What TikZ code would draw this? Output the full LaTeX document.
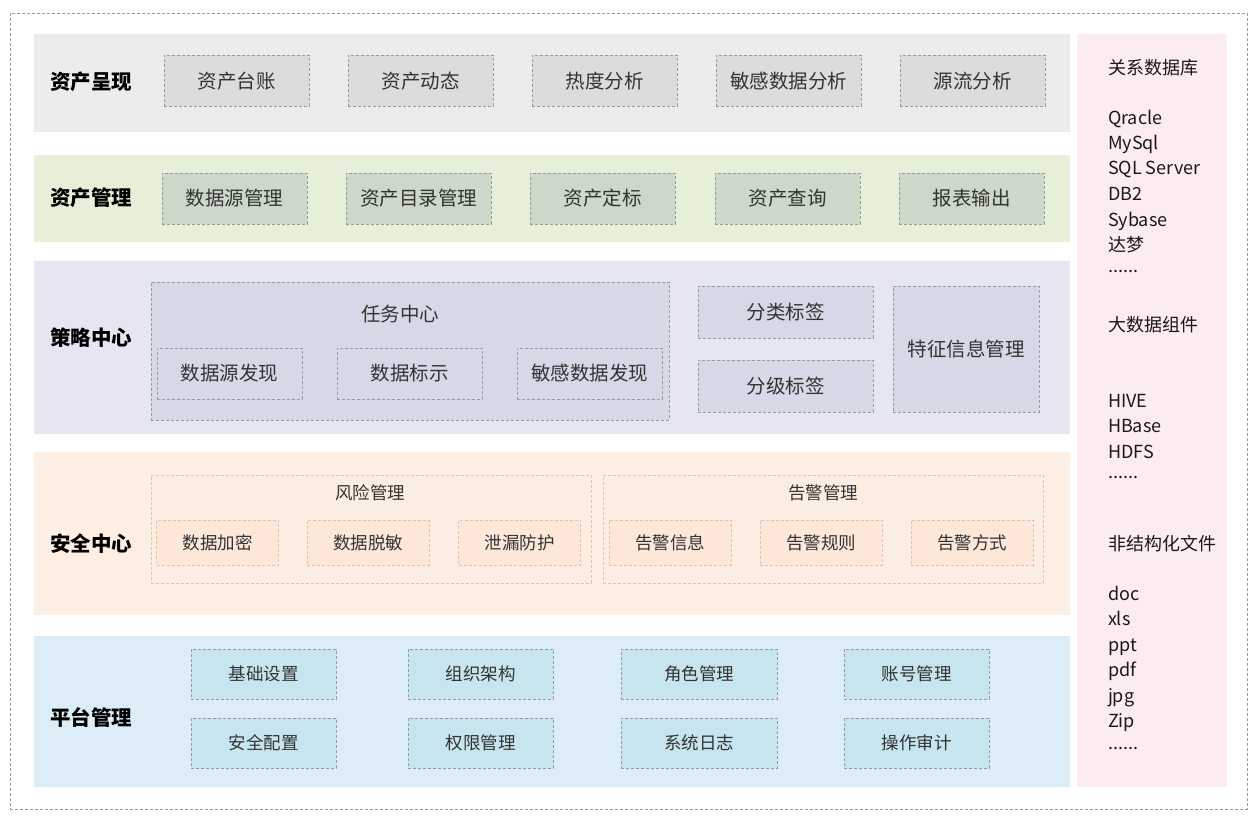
\documentclass[tikz,border=0pt]{standalone}
\usepackage{fontspec}
\setmainfont{Noto Sans CJK SC}
\definecolor{bandA}{HTML}{EDECEA}
\definecolor{bandB}{HTML}{E6F0D9}
\definecolor{bandC}{HTML}{E5E6F1}
\definecolor{bandD}{HTML}{FDEFE4}
\definecolor{bandE}{HTML}{DCEDF7}
\definecolor{bandR}{HTML}{FDEBF3}
\definecolor{boxA}{HTML}{DCDCDC}
\definecolor{boxB}{HTML}{CCD8C9}
\definecolor{boxC}{HTML}{D5D8E6}
\definecolor{boxD}{HTML}{FCE7D8}
\definecolor{grpD}{HTML}{FCEDE3}
\definecolor{boxE}{HTML}{C6E5EF}
\definecolor{dashG}{HTML}{9A9A9A}
\definecolor{dashO}{HTML}{E2C3A3}
\definecolor{txt}{HTML}{333333}
\begin{document}
\begin{tikzpicture}[x=1pt,y=-1pt,
  every node/.style={inner sep=0pt,outer sep=0pt},
  band/.style={fill=#1,draw=none,anchor=north west,minimum width=1036pt},
  cell/.style={draw=dashG,dash pattern=on 3pt off 2pt,line width=0.6pt,text=txt},
  big/.style={font=\fontsize{19.5}{20}\selectfont},
  small/.style={font=\fontsize{17.5}{18}\selectfont},
  cellA/.style={cell,big,fill=boxA,minimum width=145pt,minimum height=51pt},
  cellB/.style={cell,big,fill=boxB,minimum width=145pt,minimum height=51pt},
  cellC/.style={cell,big,fill=boxC},
  cellD/.style={cell,small,draw=dashO,fill=boxD,minimum width=122pt,minimum height=45pt},
  grpD/.style={cell,draw=dashO,fill=grpD,minimum width=440pt,minimum height=108pt},
  cellE/.style={cell,small,fill=boxE,minimum height=50pt},
  lbl/.style={font=\fontsize{20.5}{21}\selectfont\bfseries,text=black},
  rt/.style={font=\fontsize{18}{18}\selectfont,text=black!90,anchor=base west},
  gt/.style={text=txt}
]
\useasboundingbox (0,0) rectangle (1257,818);
\node[draw=dashG,dash pattern=on 3pt off 2pt,line width=0.6pt,anchor=north west,minimum width=1237pt,minimum height=796pt] (outer) at (10,13) {};

% bands
\node[band=bandA,minimum height=98pt] (b1) at (34,34) {};
\node[band=bandB,minimum height=87pt] (b2) at (34,155) {};
\node[band=bandC,minimum height=173pt] (b3) at (34,261) {};
\node[band=bandD,minimum height=163pt] (b4) at (34,452) {};
\node[band=bandE,minimum height=151pt] (b5) at (34,636) {};
\node[fill=bandR,anchor=north west,minimum width=150pt,minimum height=753pt] (rp) at (1077,34) {};

% band labels
\node[lbl] (l1) at (91,82) {资产呈现};
\node[lbl] (l2) at (91,198) {资产管理};
\node[lbl] (l3) at (91,338) {策略中心};
\node[lbl] (l4) at (91,544) {安全中心};
\node[lbl] (l5) at (91,717) {平台管理};

% row 1
\node[cellA] (a1) at (236.5,81) {资产台账};
\node[cellA] (a2) at (420.5,81) {资产动态};
\node[cellA] (a3) at (604.5,81) {热度分析};
\node[cellA] (a4) at (788.5,81) {敏感数据分析};
\node[cellA] (a5) at (972.5,81) {源流分析};

% row 2
\node[cellB] (m1) at (234.5,198.5) {数据源管理};
\node[cellB] (m2) at (418.5,198.5) {资产目录管理};
\node[cellB] (m3) at (602.5,198.5) {资产定标};
\node[cellB] (m4) at (787.5,198.5) {资产查询};
\node[cellB] (m5) at (971.5,198.5) {报表输出};

% strategy
\node[cellC,minimum width=518pt,minimum height=138pt] (tc) at (410,351) {};
\node[gt,big] (tct) at (400,314) {任务中心};
\node[cellC,minimum width=145pt,minimum height=51pt] (s1) at (229.5,373.5) {数据源发现};
\node[cellC,minimum width=145pt,minimum height=51pt] (s2) at (409.5,373.5) {数据标示};
\node[cellC,minimum width=145pt,minimum height=51pt] (s3) at (589.5,373.5) {敏感数据发现};
\node[cellC,minimum width=175pt,minimum height=52pt] (s4) at (785.5,312) {分类标签};
\node[cellC,minimum width=175pt,minimum height=52pt] (s5) at (785.5,386) {分级标签};
\node[cellC,minimum width=146pt,minimum height=126pt] (s6) at (966,349) {特征信息管理};

% security
\node[grpD] (g1) at (371,529) {};
\node[gt,small] (g1t) at (370,493) {风险管理};
\node[grpD] (g2) at (823,529) {};
\node[gt,small] (g2t) at (823,493) {告警管理};
\node[cellD] (d1) at (217.5,542.5) {数据加密};
\node[cellD] (d2) at (368,542.5) {数据脱敏};
\node[cellD] (d3) at (519.5,542.5) {泄漏防护};
\node[cellD] (d4) at (670,542.5) {告警信息};
\node[cellD] (d5) at (821,542.5) {告警规则};
\node[cellD] (d6) at (972,542.5) {告警方式};

% platform
\node[cellE,minimum width=145pt] (p1) at (263.5,674) {基础设置};
\node[cellE,minimum width=145pt] (p2) at (480.5,674) {组织架构};
\node[cellE,minimum width=156pt] (p3) at (699,674) {角色管理};
\node[cellE,minimum width=145pt] (p4) at (916.5,674) {账号管理};
\node[cellE,minimum width=145pt] (p5) at (263.5,743) {安全配置};
\node[cellE,minimum width=145pt] (p6) at (480.5,743) {权限管理};
\node[cellE,minimum width=156pt] (p7) at (699,743) {系统日志};
\node[cellE,minimum width=145pt] (p8) at (916.5,743) {操作审计};

% right panel
\node[rt] (r1) at (1108,74.5) {关系数据库};
\node[rt] (r2) at (1108,124.5) {Qracle};
\node[rt] (r3) at (1108,149.5) {MySql};
\node[rt] (r4) at (1108,175) {SQL Server};
\node[rt] (r5) at (1108,200.5) {DB2};
\node[rt] (r6) at (1108,226) {Sybase};
\node[rt] (r7) at (1108,251.5) {达梦};
\node[rt] (r8) at (1108,272) {......};
\node[rt] (r9) at (1108,331.5) {大数据组件};
\node[rt] (r10) at (1108,407.5) {HIVE};
\node[rt] (r11) at (1108,432.5) {HBase};
\node[rt] (r12) at (1108,458) {HDFS};
\node[rt] (r13) at (1108,478) {......};
\node[rt] (r14) at (1108,550) {非结构化文件};
\node[rt] (r15) at (1108,600) {doc};
\node[rt] (r16) at (1108,625.5) {xls};
\node[rt] (r17) at (1108,651) {ppt};
\node[rt] (r18) at (1108,676.5) {pdf};
\node[rt] (r19) at (1108,702) {jpg};
\node[rt] (r20) at (1108,727.5) {Zip};
\node[rt] (r21) at (1108,749) {......};
\end{tikzpicture}
\end{document}
